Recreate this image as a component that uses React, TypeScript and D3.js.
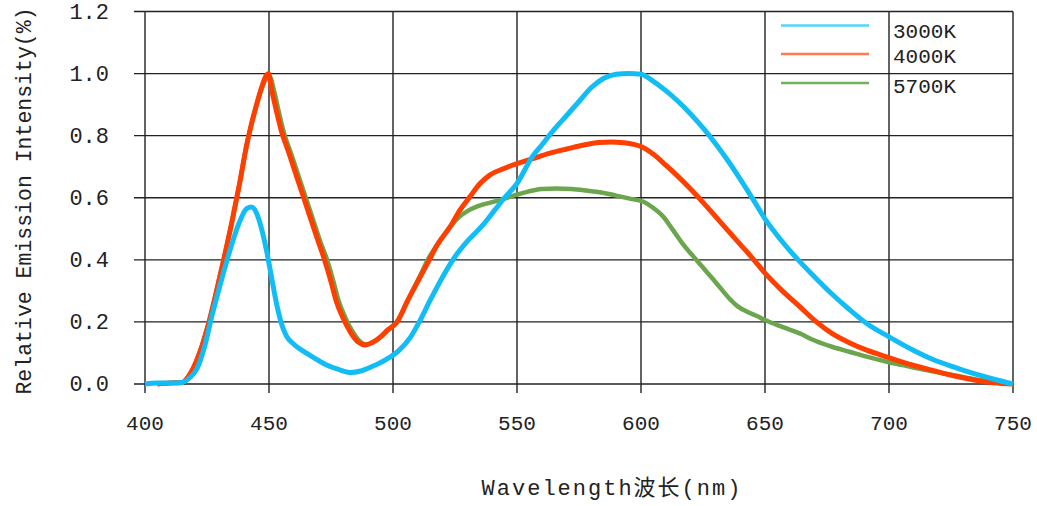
import React, { useEffect, useRef } from 'react';
import * as d3 from 'd3';

interface IPoint {
  nm: number;
  v: number;
}

const xTicks = [400, 450, 500, 550, 600, 650, 700, 750];
const yTicks = [0, 0.2, 0.4, 0.6, 0.8, 1.0, 1.2];

const nm3000 = [
  400, 405, 410, 415, 418, 421, 424, 427, 431, 435, 438, 441, 443, 445, 447, 449, 451, 453, 455, 457, 460, 464, 468,
  473, 478, 483, 487, 492, 497, 502, 507, 511, 515, 520, 525, 530, 536, 541, 545, 550, 556, 560, 565, 570, 575, 580,
  585, 590, 595, 600, 605, 610, 615, 620, 625, 630, 635, 640, 645, 650, 656, 663, 670, 677, 684, 691, 700, 710, 718,
  726, 734, 742, 750,
];
const val3000 = [
  0, 0.003, 0.003, 0.005, 0.02, 0.05, 0.12, 0.22, 0.34, 0.45, 0.52, 0.565, 0.57, 0.55, 0.5, 0.43, 0.345, 0.26, 0.195,
  0.155, 0.128, 0.105, 0.085, 0.062, 0.047, 0.037, 0.042, 0.058, 0.078, 0.105, 0.15, 0.206, 0.27, 0.345, 0.41, 0.46,
  0.51, 0.56, 0.6, 0.646, 0.73, 0.77, 0.82, 0.865, 0.91, 0.955, 0.985, 0.998, 1.0, 0.998, 0.975, 0.945, 0.91, 0.87,
  0.825, 0.775, 0.72, 0.66, 0.597, 0.532, 0.468, 0.403, 0.345, 0.29, 0.24, 0.195, 0.152, 0.108, 0.078, 0.055, 0.034,
  0.016, 0,
];

const nm4000 = [
  405, 410, 415, 418, 422, 426, 429, 432, 435, 438, 441, 443, 445, 447, 449, 449.8, 451, 453, 455, 458, 461, 464, 467,
  470, 472, 475, 477, 480, 483, 486, 488.7, 492, 495, 498, 501.5, 506, 511, 514, 518, 523, 527, 531, 535, 539, 545,
  550, 556, 563, 570, 577, 583, 588, 593, 597, 600, 605, 610, 615, 620, 625, 630, 635, 640, 645, 650, 657, 664, 670,
  677, 684, 691, 700, 709, 718, 727, 735, 742, 750,
];
const val4000 = [
  0, 0.003, 0.005, 0.03, 0.1, 0.206, 0.305, 0.41, 0.52, 0.64, 0.77, 0.84, 0.9, 0.955, 0.995, 1.0, 0.95, 0.88, 0.815,
  0.745, 0.672, 0.6, 0.528, 0.456, 0.41, 0.33, 0.27, 0.21, 0.165, 0.135, 0.126, 0.135, 0.152, 0.175, 0.198, 0.27,
  0.345, 0.39, 0.45, 0.506, 0.56, 0.603, 0.645, 0.673, 0.695, 0.71, 0.725, 0.743, 0.757, 0.77, 0.778, 0.78, 0.777,
  0.772, 0.765, 0.74, 0.705, 0.668, 0.628, 0.585, 0.54, 0.495, 0.45, 0.405, 0.357, 0.3, 0.249, 0.205, 0.163, 0.133,
  0.109, 0.085, 0.062, 0.043, 0.025, 0.012, 0.004, 0,
];

const nm5700 = [
  405, 410, 415, 418, 422, 426, 429, 432, 435, 438, 441, 443, 445, 447, 449, 450.3, 452, 454, 456, 459, 462, 465, 468,
  471, 473, 476, 478, 481, 484, 487, 489, 492, 495, 498, 501.5, 506, 511, 514, 518, 523, 527, 530, 534, 538, 542, 546,
  550, 554, 560, 566, 572, 578, 584, 590, 595, 601, 605, 609, 613, 617, 621, 625, 629, 633, 636, 639, 643, 647, 650,
  657, 664, 670, 677, 684, 691, 700, 709, 718, 727, 735, 742, 750,
];
const val5700 = [
  0, 0.003, 0.005, 0.03, 0.1, 0.206, 0.305, 0.41, 0.52, 0.64, 0.77, 0.84, 0.9, 0.95, 0.985, 0.99, 0.945, 0.875, 0.81,
  0.74, 0.668, 0.596, 0.524, 0.452, 0.41, 0.33, 0.27, 0.21, 0.165, 0.135, 0.127, 0.135, 0.152, 0.175, 0.2, 0.27, 0.35,
  0.4, 0.45, 0.506, 0.54, 0.557, 0.572, 0.582, 0.59, 0.6, 0.61, 0.619, 0.628, 0.63, 0.628, 0.623, 0.617, 0.607, 0.598,
  0.587, 0.567, 0.539, 0.495, 0.45, 0.412, 0.375, 0.338, 0.3, 0.272, 0.25, 0.232, 0.218, 0.206, 0.184, 0.163, 0.14,
  0.12, 0.104, 0.088, 0.07, 0.055, 0.04, 0.027, 0.015, 0.006, 0,
];

const seriesNames = ['3000K', '4000K', '5700K'];
const lineColors = ['#12BDF5', '#FF3F00', '#6BA64E'];
const legendColors = ['#55D2FF', '#FF7A4E', '#72B062'];

const toPoints = (nm: number[], v: number[]): IPoint[] => nm.map((n, i) => ({ nm: n, v: v[i] }));

const WIDTH = 1037;
const HEIGHT = 506;
const MONO = "'Liberation Mono', 'Noto Sans CJK SC', monospace";

const App = () => {
  const svgRef = useRef<SVGSVGElement>(null);

  useEffect(() => {
    drawChart(svgRef);
  }, [svgRef]);

  return (
    <svg
      ref={svgRef}
      width={WIDTH}
      height={HEIGHT}
      style={{ position: 'absolute', left: 0, top: 0, background: '#fff' }}
    ></svg>
  );
};

function drawChart(svgRef: React.RefObject<SVGSVGElement>) {
  const left = 145,
    right = 1013,
    top = 11.5,
    bottom = 384;

  const svg = d3.select(svgRef.current);
  svg.selectAll('*').remove();

  const x = d3.scaleLinear().domain([400, 750]).range([left, right]);
  const y = d3.scaleLinear().domain([0, 1.2]).range([bottom, top]);

  // grid + outward ticks
  const grid = svg.append('g').attr('stroke', '#222').attr('stroke-width', 1.4);
  grid
    .selectAll('line.v')
    .data(xTicks)
    .join('line')
    .attr('class', 'v')
    .attr('x1', (d) => x(d))
    .attr('x2', (d) => x(d))
    .attr('y1', top)
    .attr('y2', bottom + 9);
  grid
    .selectAll('line.h')
    .data(yTicks)
    .join('line')
    .attr('class', 'h')
    .attr('x1', left - 11)
    .attr('x2', right)
    .attr('y1', (d) => y(d))
    .attr('y2', (d) => y(d));

  // tick labels
  svg
    .append('g')
    .selectAll('text')
    .data(xTicks)
    .join('text')
    .attr('x', (d) => x(d))
    .attr('y', 430)
    .attr('text-anchor', 'middle')
    .style('font-family', MONO)
    .style('font-size', '21px')
    .attr('fill', '#222')
    .text((d) => d);

  svg
    .append('g')
    .selectAll('text')
    .data(yTicks)
    .join('text')
    .attr('x', 109)
    .attr('y', (d) => y(d) + 7)
    .attr('text-anchor', 'end')
    .style('font-family', MONO)
    .style('font-size', '22px')
    .attr('fill', '#222')
    .text((d) => d.toFixed(1));

  // axis titles
  svg
    .append('text')
    .attr('x', 612)
    .attr('y', 495)
    .attr('text-anchor', 'middle')
    .style('font-family', MONO)
    .style('font-size', '22px')
    .style('letter-spacing', '2px')
    .attr('fill', '#222')
    .text('Wavelength波长(nm)');

  svg
    .append('text')
    .attr('transform', 'translate(31,201) rotate(-90)')
    .attr('text-anchor', 'middle')
    .style('font-family', MONO)
    .style('font-size', '21.5px')
    .attr('fill', '#222')
    .text('Relative Emission Intensity(%)');

  // curves: green under red under blue
  const line = d3
    .line<IPoint>()
    .x((d) => x(d.nm))
    .y((d) => y(d.v))
    .curve(d3.curveMonotoneX);

  const series = [toPoints(nm3000, val3000), toPoints(nm4000, val4000), toPoints(nm5700, val5700)];
  const widths = [5, 5, 4.5];
  [2, 1, 0].forEach((i) => {
    svg
      .append('path')
      .datum(series[i])
      .attr('fill', 'none')
      .attr('stroke', lineColors[i])
      .attr('stroke-width', widths[i])
      .attr('stroke-linejoin', 'round')
      .attr('d', line);
  });

  // legend
  const legendY = [25.5, 54, 83];
  const legend = svg.append('g');
  seriesNames.forEach((name, i) => {
    legend
      .append('line')
      .attr('x1', 781)
      .attr('x2', 869)
      .attr('y1', legendY[i])
      .attr('y2', legendY[i])
      .attr('stroke', legendColors[i])
      .attr('stroke-width', 2.5);
    legend
      .append('text')
      .attr('x', 893)
      .attr('y', [38, 63, 93][i])
      .style('font-family', MONO)
      .style('font-size', '21px')
      .attr('fill', '#222')
      .text(name);
  });
}

export default App;
